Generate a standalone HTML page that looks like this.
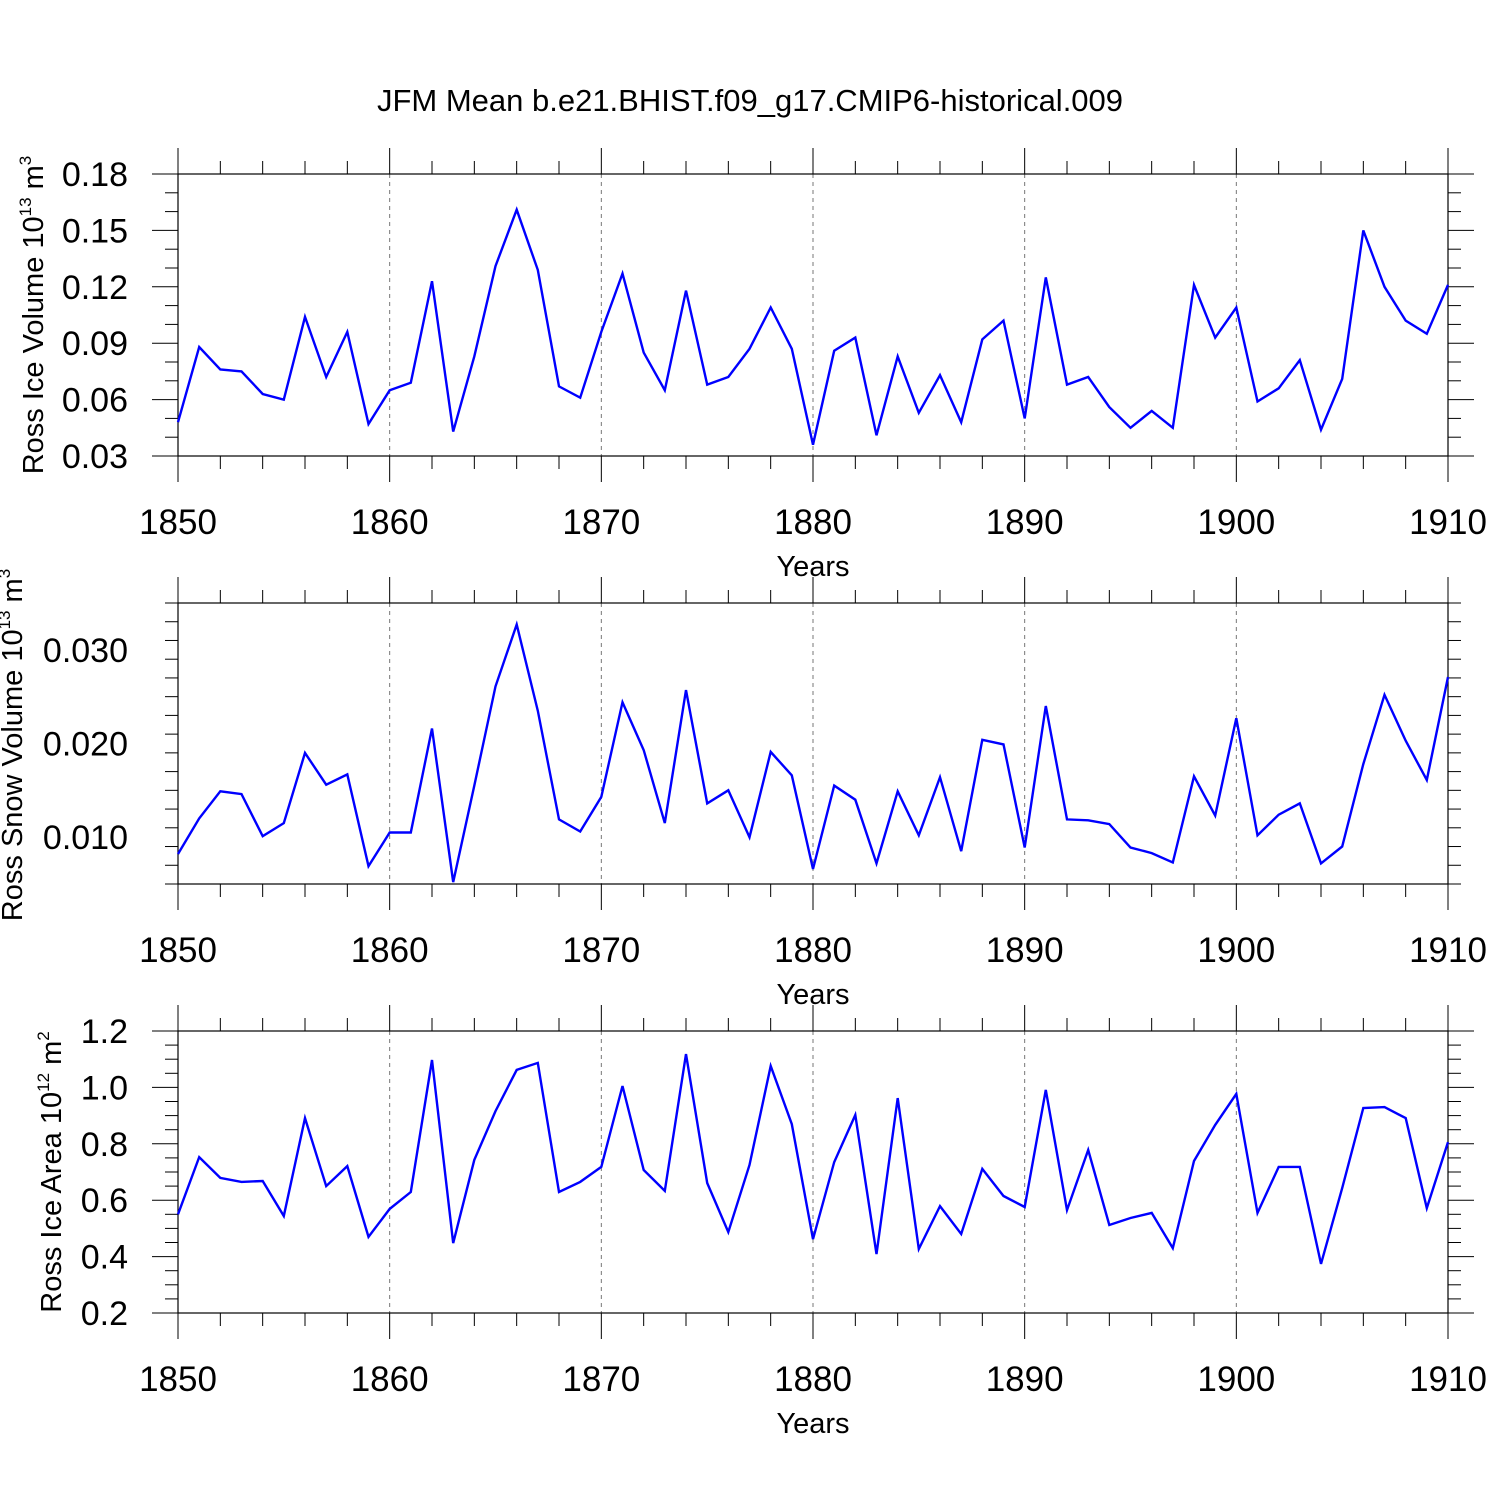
<!DOCTYPE html>
<html><head><meta charset="utf-8"><style>
html,body{margin:0;padding:0;background:#fff;}
svg{display:block;font-family:"Liberation Sans",sans-serif;}
</style></head><body>
<svg id="c" width="1500" height="1500" viewBox="0 0 1500 1500">
<text x="750" y="111" text-anchor="middle" font-size="31">JFM Mean b.e21.BHIST.f09_g17.CMIP6-historical.009</text>
</svg>
<script>
const years = [];
for (let y = 1850; y <= 1910; y++) years.push(y);
const xTickLabels = ["1850","1860","1870","1880","1890","1900","1910"];
const iceVolume = [0.048,0.088,0.076,0.075,0.063,0.060,0.104,0.072,0.096,0.047,0.065,0.069,0.123,0.043,0.083,0.131,0.161,0.129,0.067,0.061,0.096,0.127,0.085,0.065,0.118,0.068,0.072,0.087,0.109,0.087,0.036,0.086,0.093,0.041,0.083,0.053,0.073,0.048,0.092,0.102,0.050,0.125,0.068,0.072,0.056,0.045,0.054,0.045,0.121,0.093,0.109,0.059,0.066,0.081,0.044,0.071,0.150,0.120,0.102,0.095,0.121];
const snowVolume = [0.0082,0.0120,0.0149,0.0146,0.0101,0.0115,0.0190,0.0156,0.0167,0.0069,0.0105,0.0105,0.0216,0.0052,0.0155,0.0261,0.0327,0.0235,0.0119,0.0106,0.0143,0.0244,0.0193,0.0115,0.0257,0.0136,0.0150,0.0100,0.0191,0.0166,0.0066,0.0155,0.0140,0.0072,0.0149,0.0102,0.0164,0.0085,0.0204,0.0199,0.0089,0.0240,0.0119,0.0118,0.0114,0.0089,0.0083,0.0073,0.0165,0.0123,0.0227,0.0102,0.0124,0.0136,0.0072,0.0090,0.0178,0.0252,0.0203,0.0161,0.0271];
const iceArea = [0.55,0.753,0.679,0.665,0.668,0.544,0.891,0.650,0.721,0.470,0.569,0.629,1.097,0.448,0.743,0.916,1.062,1.087,0.629,0.665,0.718,1.005,0.707,0.633,1.118,0.661,0.487,0.725,1.076,0.870,0.462,0.735,0.902,0.409,0.962,0.427,0.579,0.480,0.711,0.615,0.576,0.991,0.565,0.778,0.512,0.537,0.555,0.430,0.739,0.867,0.977,0.555,0.718,0.718,0.374,0.643,0.927,0.930,0.891,0.572,0.806];
const yTicks1 = ["0.03","0.06","0.09","0.12","0.15","0.18"];
const yTicks2 = ["0.010","0.020","0.030"];
const yTicks3 = ["0.2","0.4","0.6","0.8","1.0","1.2"];

const NS = "http://www.w3.org/2000/svg";
const svg = document.getElementById('c');
function mk(tag, attrs, parent){const e=document.createElementNS(NS,tag);for(const k in attrs)e.setAttribute(k,attrs[k]);(parent||svg).appendChild(e);return e;}
const X0=178, X1=1448;
function xs(yr){return X0+(yr-1850)*(X1-X0)/60;}

const panels = [
 {top:174,bot:456,vmin:0.03,vmax:0.18,minor:0.01,data:iceVolume,ticks:yTicks1,name:"ice-volume",title:["Ross Ice Volume 10","13"," m","3"],tcy:315,tx:43},
 {top:603,bot:884,vmin:0.005,vmax:0.035,minor:0.002,data:snowVolume,ticks:yTicks2,name:"snow-volume",title:["Ross Snow Volume 10","13"," m","3"],tcy:745,tx:22},
 {top:1031,bot:1313,vmin:0.2,vmax:1.2,minor:0.05,data:iceArea,ticks:yTicks3,name:"ice-area",title:["Ross Ice Area 10","12"," m","2"],tcy:1172,tx:61}
];
panels.forEach((p,pi)=>{
  const g=mk('g',{});
  
  
  const ys=v=>p.bot-(v-p.vmin)*(p.bot-p.top)/(p.vmax-p.vmin);
  for(let yr=1860;yr<=1900;yr+=10){
    const l=mk('line',{x1:xs(yr),x2:xs(yr),y1:p.top,y2:p.bot,stroke:'#777','stroke-width':1,'stroke-dasharray':'4,4'},g);
    
    
  }
  for(let yr=1850;yr<=1910;yr+=2){
    const major=(yr%10===0), len=major?26:13;
    mk('line',{x1:xs(yr),x2:xs(yr),y1:p.top,y2:p.top-len,stroke:'#000','stroke-width':1},g);
    mk('line',{x1:xs(yr),x2:xs(yr),y1:p.bot,y2:p.bot+len,stroke:'#000','stroke-width':1},g);
  }
  const nMin=Math.round((p.vmax-p.vmin)/p.minor);
  const majStep=(parseFloat(p.ticks[1])-parseFloat(p.ticks[0]));
  for(let i=0;i<=nMin;i++){
    const v=p.vmin+i*p.minor; const y=ys(v);
    const r=(v-parseFloat(p.ticks[0]))/majStep; const major=Math.abs(r-Math.round(r))<1e-6;
    const len=major?26:13;
    mk('line',{x1:X0,x2:X0-len,y1:y,y2:y,stroke:'#000','stroke-width':1},g);
    mk('line',{x1:X1,x2:X1+len,y1:y,y2:y,stroke:'#000','stroke-width':1},g);
  }
  p.ticks.forEach(t=>{
    const tx=mk('text',{x:128,y:ys(parseFloat(t))+12,'text-anchor':'end','font-size':34},g);
    tx.textContent=t;
    
    
  });
  xTickLabels.forEach(t=>{
    const tx=mk('text',{x:xs(parseFloat(t)),y:p.bot+78,'text-anchor':'middle','font-size':35},g);
    tx.textContent=t;
    
    
  });
  const xt=mk('text',{x:813,y:p.bot+120,'text-anchor':'middle','font-size':29},g);
  xt.textContent='Years';
  
  
  const yt=mk('text',{transform:`translate(${p.tx},${p.tcy}) rotate(-90)`,'text-anchor':'middle','font-size':29},g);
  
  
  const parts=p.title;
  const s1=mk('tspan',{},yt); s1.textContent=parts[0];
  const s2=mk('tspan',{dy:-12,'font-size':17},yt); s2.textContent=parts[1];
  const s3=mk('tspan',{dy:12},yt); s3.textContent=parts[2];
  const s4=mk('tspan',{dy:-12,'font-size':17},yt); s4.textContent=parts[3];
  const fr=mk('rect',{x:X0,y:p.top,width:X1-X0,height:p.bot-p.top,fill:'none',stroke:'#000','stroke-width':1.2},g);
  
  
  const pts=p.data.map((v,i)=>xs(years[i]).toFixed(1)+','+ys(v).toFixed(1)).join(' ');
  const pl=mk('polyline',{points:pts,fill:'none',stroke:'#0000ff','stroke-width':2.4,'stroke-linejoin':'miter'},g);
  
  
});
</script>
</body></html>
